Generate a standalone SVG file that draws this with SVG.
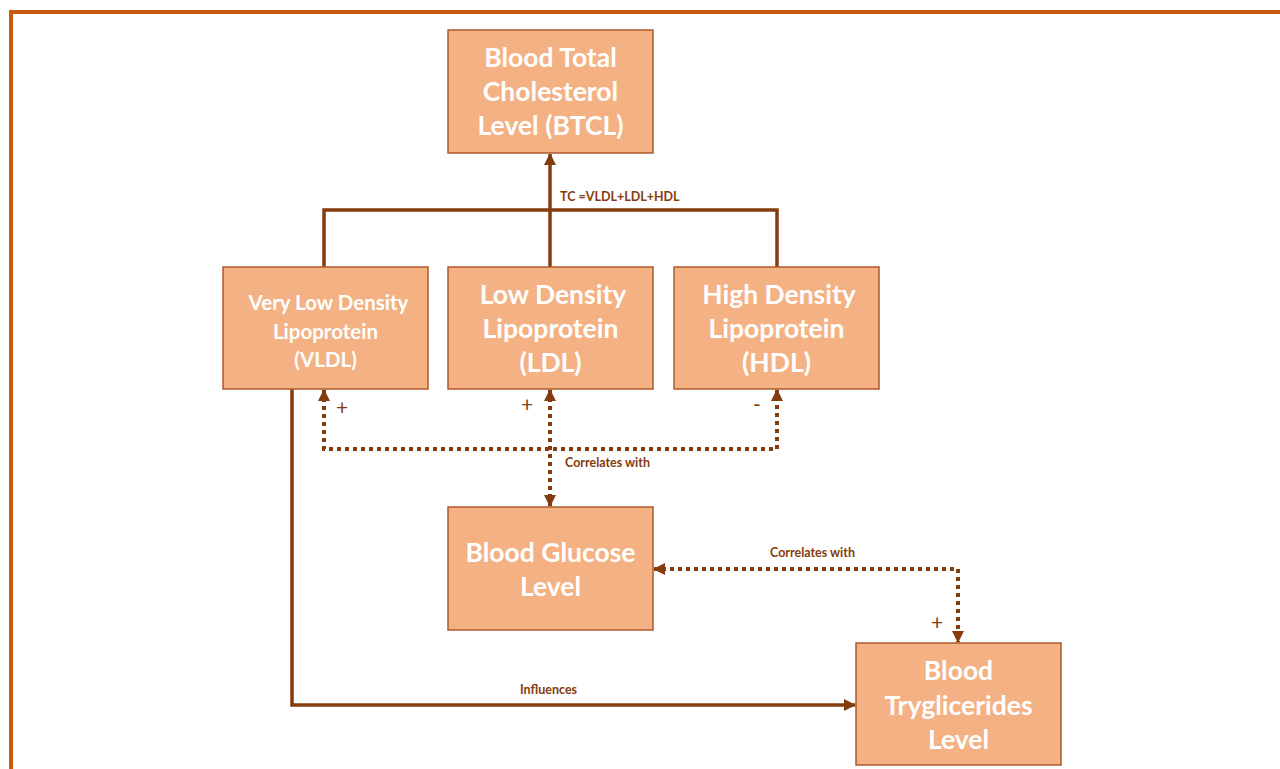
<svg xmlns="http://www.w3.org/2000/svg" width="1280" height="769" viewBox="0 0 1280 769">
  <style>
    .box { fill: #F4B183; stroke: #AE5A2C; stroke-width: 1.5; }
    .big { font-family: Lato, "Open Sans", "Liberation Sans", sans-serif; font-weight: bold; font-size: 26.5px; fill: #FFFFFF; text-anchor: middle; }
    .mid { font-family: Lato, "Open Sans", "Liberation Sans", sans-serif; font-weight: bold; font-size: 20.5px; fill: #FFFFFF; text-anchor: middle; }
    .lbl { font-family: Lato, "Open Sans", "Liberation Sans", sans-serif; font-weight: bold; font-size: 12.5px; fill: #843C0C; }
    .sign { font-family: Lato, "Open Sans", "Liberation Sans", sans-serif; font-size: 21px; fill: #843C0C; }
    .solid { fill: none; stroke: #843C0C; stroke-width: 3.5; }
    .dot { fill: none; stroke: #843C0C; stroke-width: 4; stroke-dasharray: 4 4; }
  </style>
  <defs>
    <marker id="arrow" viewBox="0 0 12 12" refX="11" refY="6" markerWidth="12" markerHeight="12" markerUnits="userSpaceOnUse" orient="auto-start-reverse">
      <path d="M0,0 L12,6 L0,12 Z" fill="#843C0C"/>
    </marker>
  </defs>

  <rect x="0" y="0" width="1280" height="769" fill="#FFFFFF"/>
  <!-- frame -->
  <path d="M11,769 L11,12 L1280,12" fill="none" stroke="#C55A11" stroke-width="4"/>

  <g id="connectors">
    <!-- total cholesterol bus -->
    <path class="solid" d="M324,267 L324,210 L777,210 L777,267"/>
    <path class="solid" d="M550,267 L550,154" marker-end="url(#arrow)"/>
    <!-- lipoprotein correlation with glucose -->
    <path class="dot" d="M324,390 L324,449 L777,449 L777,390" marker-start="url(#arrow)" marker-end="url(#arrow)"/>
    <path class="dot" d="M550,390 L550,506" marker-start="url(#arrow)" marker-end="url(#arrow)"/>
    <!-- glucose and triglycerides -->
    <path class="dot" d="M654,569 L958,569 L958,642" marker-start="url(#arrow)" marker-end="url(#arrow)"/>
    <!-- VLDL influences triglycerides -->
    <path class="solid" d="M292,389 L292,705 L855,705" marker-end="url(#arrow)"/>
  </g>

  <g id="labels">
    <text class="lbl" x="560" y="201">TC =VLDL+LDL+HDL</text>
    <text class="lbl" x="565" y="467">Correlates with</text>
    <text class="lbl" x="770" y="557">Correlates with</text>
    <text class="lbl" x="520" y="694">Influences</text>
    <text class="sign" x="336" y="415">+</text>
    <text class="sign" x="521" y="412">+</text>
    <text class="sign" x="753" y="412">-</text>
    <text class="sign" x="931" y="630">+</text>
  </g>

  <g id="btcl">
    <rect class="box" x="448" y="30" width="205" height="123"/>
    <text class="big" x="550.5" y="67">Blood Total</text>
    <text class="big" x="550.5" y="101">Cholesterol</text>
    <text class="big" x="550.5" y="135">Level (BTCL)</text>
  </g>

  <g id="vldl">
    <rect class="box" x="223" y="267" width="205" height="122"/>
    <text class="mid" x="328.5" y="310">Very Low Density</text>
    <text class="mid" x="325.5" y="339">Lipoprotein</text>
    <text class="mid" x="325.5" y="367">(VLDL)</text>
  </g>

  <g id="ldl">
    <rect class="box" x="448" y="267" width="205" height="122"/>
    <text class="big" x="553" y="304">Low Density</text>
    <text class="big" x="550.5" y="338">Lipoprotein</text>
    <text class="big" x="550.5" y="372">(LDL)</text>
  </g>

  <g id="hdl">
    <rect class="box" x="674" y="267" width="205" height="122"/>
    <text class="big" x="779" y="304">High Density</text>
    <text class="big" x="776.5" y="338">Lipoprotein</text>
    <text class="big" x="776.5" y="372">(HDL)</text>
  </g>

  <g id="glucose">
    <rect class="box" x="448" y="507" width="205" height="123"/>
    <text class="big" x="550.5" y="562">Blood Glucose</text>
    <text class="big" x="550.5" y="596">Level</text>
  </g>

  <g id="triglycerides">
    <rect class="box" x="856" y="643" width="205" height="122"/>
    <text class="big" x="958.5" y="680">Blood</text>
    <text class="big" x="958.5" y="715">Tryglicerides</text>
    <text class="big" x="958.5" y="749">Level</text>
  </g>
</svg>
